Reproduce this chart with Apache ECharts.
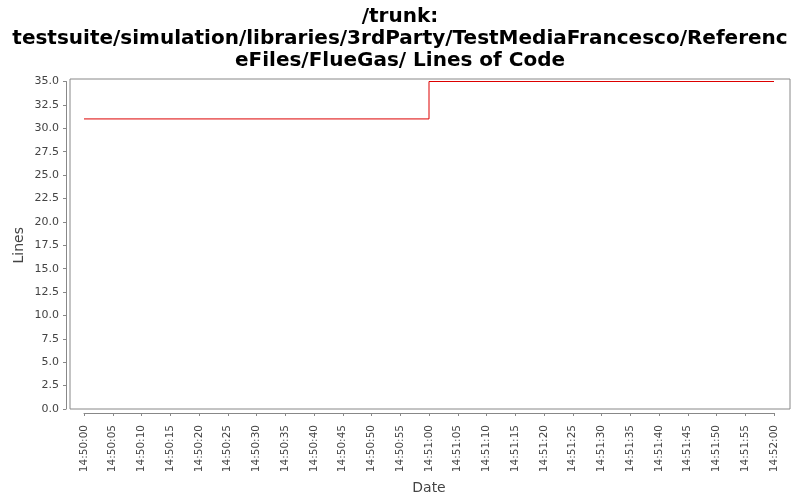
<!DOCTYPE html>
<html>
<head>
<meta charset="utf-8">
<script src="https://cdn.jsdelivr.net/npm/echarts@6/dist/echarts.min.js"></script>
<style>
  html, body { margin: 0; padding: 0; background: #fff; }
  #chart { width: 800px; height: 500px; }
</style>
</head>
<body>
<div id="chart"></div>
<script>
// data
const titleText = '/trunk:\ntestsuite/simulation/libraries/3rdParty/TestMediaFrancesco/Referenc\neFiles/FlueGas/ Lines of Code';
const dates = ['14:50:00', '14:51:00', '14:52:00'];
const lines = [31, 35, 35];
const yTicks = [0, 2.5, 5, 7.5, 10, 12.5, 15, 17.5, 20, 22.5, 25, 27.5, 30, 32.5, 35];

// seconds after 14:50:00
const toSec = s => {
  const p = s.split(':').map(Number);
  return (p[0] - 14) * 3600 + (p[1] - 50) * 60 + p[2];
};
const fmtSec = v => {
  const m = 50 + Math.floor(v / 60);
  const s = v % 60;
  return '14:' + m + ':' + String(s).padStart(2, '0');
};

const chart = echarts.init(document.getElementById('chart'));
const labelFont = 'DejaVu Sans';

const option = {
  animation: false,
  backgroundColor: '#fff',
  title: {
    text: titleText,
    left: 'center',
    top: 1,
    textStyle: {
      fontFamily: 'DejaVu Sans',
      fontWeight: 'bold',
      fontSize: 20,
      lineHeight: 22,
      color: '#000'
    }
  },
  grid: [
    // frame of the plot
    { left: 70, top: 79, width: 720, height: 330, show: true, borderColor: '#888', borderWidth: 1, backgroundColor: '#fff' },
    // data area
    { left: 84, right: 26, top: 81.5, height: 328 }
  ],
  xAxis: [
    { gridIndex: 0, type: 'value', show: false, min: 0, max: 1 },
    {
      gridIndex: 1,
      type: 'value',
      min: 0,
      max: 120,
      interval: 5,
      offset: 4,
      name: 'Date',
      nameLocation: 'middle',
      nameGap: 68,
      nameMoveOverlap: false,
      nameTextStyle: { fontFamily: labelFont, fontSize: 14, color: '#444' },
      axisLine: { onZero: false, lineStyle: { color: '#888' } },
      axisTick: { length: 3, lineStyle: { color: '#888' } },
      splitLine: { show: false },
      axisLabel: {
        rotate: 90,
        margin: 12,
        fontFamily: labelFont,
        fontSize: 10.5,
        color: '#444',
        formatter: v => fmtSec(v)
      }
    }
  ],
  yAxis: [
    { gridIndex: 0, type: 'value', show: false, min: 0, max: 1 },
    {
      gridIndex: 1,
      type: 'value',
      min: 0,
      max: 35,
      interval: 2.5,
      offset: 18,
      name: 'Lines',
      nameLocation: 'middle',
      nameGap: 40,
      nameMoveOverlap: false,
      nameTextStyle: { fontFamily: labelFont, fontSize: 14, color: '#444' },
      axisLine: { show: true, onZero: false, lineStyle: { color: '#888' } },
      axisTick: { show: true, length: 3, lineStyle: { color: '#888' } },
      splitLine: { show: false },
      axisLabel: {
        margin: 7,
        fontFamily: labelFont,
        fontSize: 11,
        color: '#444',
        formatter: v => yTicks.includes(v) ? v.toFixed(1) : ''
      }
    }
  ],
  series: [
    {
      name: 'Lines',
      type: 'line',
      xAxisIndex: 1,
      yAxisIndex: 1,
      step: 'end',
      symbol: 'none',
      lineStyle: { color: '#dd0000', width: 1 },
      data: dates.map((d, i) => [toSec(d), lines[i]])
    }
  ]
};

chart.setOption(option);
</script>
</body>
</html>
